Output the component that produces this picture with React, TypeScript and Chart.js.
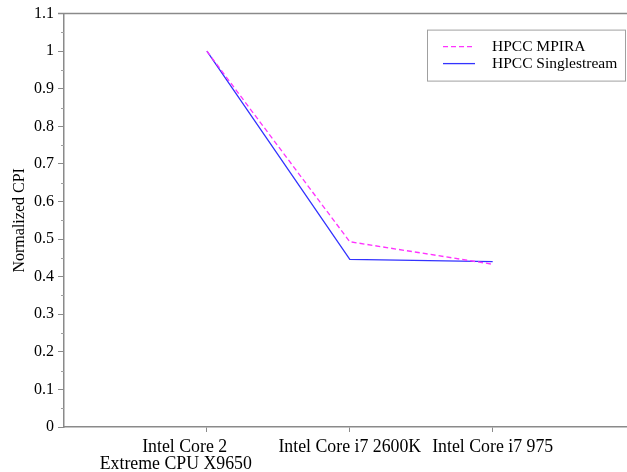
import React, { useEffect, useRef } from "react";
import { Chart, registerables } from "chart.js";

Chart.register(...registerables);

const categories: (string | string[])[] = [
  ["Intel Core 2", "Extreme CPU X9650"],
  "Intel Core i7 2600K",
  "Intel Core i7 975",
];
const mpira = [1.0, 0.493, 0.433];
const singlestream = [1.0, 0.446, 0.44];
const seriesNames = ["HPCC MPIRA", "HPCC Singlestream"];
const yMinorTicks = [0.05, 0.15, 0.25, 0.35, 0.45, 0.55, 0.65, 0.75, 0.85, 0.95, 1.05];

const FONT = "'Liberation Serif', 'Times New Roman', serif";
const AXIS_COLOR = "#8a8a8a";
const NB = "\u00a0";

// the first category label sits left of its tick in the reference
const shiftLabel = (label: string | string[], idx: number) => {
  if (idx !== 0 || !Array.isArray(label)) return label;
  return [label[0] + NB.repeat(10), label[1] + NB.repeat(14)];
};

const framePlugin = {
  id: "frame",
  afterDraw(chart: any) {
    const { ctx, chartArea, scales } = chart;
    ctx.save();
    ctx.strokeStyle = AXIS_COLOR;
    ctx.lineWidth = 1.5;
    ctx.beginPath();
    ctx.moveTo(chartArea.left - 6, chartArea.top);
    ctx.lineTo(chartArea.right, chartArea.top);
    ctx.stroke();
    ctx.lineWidth = 1;
    ctx.strokeStyle = "#a0a0a0";
    yMinorTicks.forEach((v) => {
      const y = Math.round(scales.y.getPixelForValue(v)) + 0.5;
      ctx.beginPath();
      ctx.moveTo(chartArea.left - 3, y);
      ctx.lineTo(chartArea.left, y);
      ctx.stroke();
    });
    const bx = chartArea.left + 363;
    const by = chartArea.top + 16;
    const bw = 198;
    const bh = 51;
    ctx.fillStyle = "#fff";
    ctx.fillRect(bx, by, bw, bh);
    ctx.strokeStyle = "#a0a0a0";
    ctx.lineWidth = 1;
    ctx.strokeRect(bx + 0.5, by + 0.5, bw, bh);
    chart.data.datasets.forEach((ds: any, i: number) => {
      const ly = by + 17 + i * 17;
      ctx.strokeStyle = ds.borderColor;
      ctx.lineWidth = ds.borderWidth;
      ctx.setLineDash(ds.borderDash || []);
      ctx.beginPath();
      ctx.moveTo(bx + 16, ly);
      ctx.lineTo(bx + 48, ly);
      ctx.stroke();
      ctx.setLineDash([]);
      ctx.fillStyle = "#000";
      ctx.font = `15.5px ${FONT}`;
      ctx.textBaseline = "middle";
      ctx.textAlign = "left";
      ctx.fillText(ds.label, bx + 65, ly);
    });
    ctx.restore();
  },
};

export default function App() {
  const ref = useRef<HTMLCanvasElement>(null);
  useEffect(() => {
    if (!ref.current) return;
    const chart = new Chart(ref.current, {
      type: "line",
      data: {
        datasets: [
          {
            label: seriesNames[0],
            data: mpira.map((v, i) => ({ x: i + 1, y: v })),
            borderColor: "#ff33ff",
            borderWidth: 1.3,
            borderDash: [5, 3],
            pointRadius: 0,
            tension: 0,
            fill: false,
          },
          {
            label: seriesNames[1],
            data: singlestream.map((v, i) => ({ x: i + 1, y: v })),
            borderColor: "#3333ff",
            borderWidth: 1.3,
            pointRadius: 0,
            tension: 0,
            fill: false,
          },
        ],
      },
      options: {
        animation: false,
        responsive: false,
        maintainAspectRatio: false,
        layout: { padding: { top: 11, left: 10, right: 0, bottom: 0 } },
        plugins: { legend: { display: false }, tooltip: { enabled: false } },
        scales: {
          x: {
            type: "linear",
            min: 0,
            max: 3.94,
            afterFit: (s: any) => {
              s.height = 45;
            },
            afterBuildTicks: (s: any) => {
              s.ticks = categories.map((_, i) => ({ value: i + 1 }));
            },
            ticks: {
              autoSkip: false,
              maxRotation: 0,
              color: "#000",
              padding: 6,
              font: { family: FONT, size: 17.8, lineHeight: 1.0 },
              callback: (v: any) => {
                const idx = Number(v) - 1;
                return shiftLabel(categories[idx], idx) as any;
              },
            },
            grid: { drawOnChartArea: false, drawTicks: true, tickLength: 5, color: AXIS_COLOR },
            border: { color: AXIS_COLOR, width: 1.5 },
          },
          y: {
            min: 0,
            max: 1.1,
            afterFit: (s: any) => {
              s.width = 54;
            },
            ticks: {
              stepSize: 0.1,
              color: "#000",
              padding: 4,
              font: { family: FONT, size: 16 },
              callback: (v: any) => String(Math.round(Number(v) * 10) / 10),
            },
            title: {
              display: true,
              text: "Normalized CPI",
              color: "#000",
              font: { family: FONT, size: 16 },
              padding: { top: 0, bottom: 0 },
            },
            grid: { drawOnChartArea: false, drawTicks: true, tickLength: 6, color: AXIS_COLOR },
            border: { color: AXIS_COLOR, width: 1.5 },
          },
        },
      },
      plugins: [framePlugin],
    });
    return () => chart.destroy();
  }, []);
  return (
    <div style={{ position: "fixed", left: 0, top: 0, width: 627, height: 472, background: "#fff" }}>
      <canvas ref={ref} width={627} height={472} style={{ width: 627, height: 472, display: "block" }} />
    </div>
  );
}
